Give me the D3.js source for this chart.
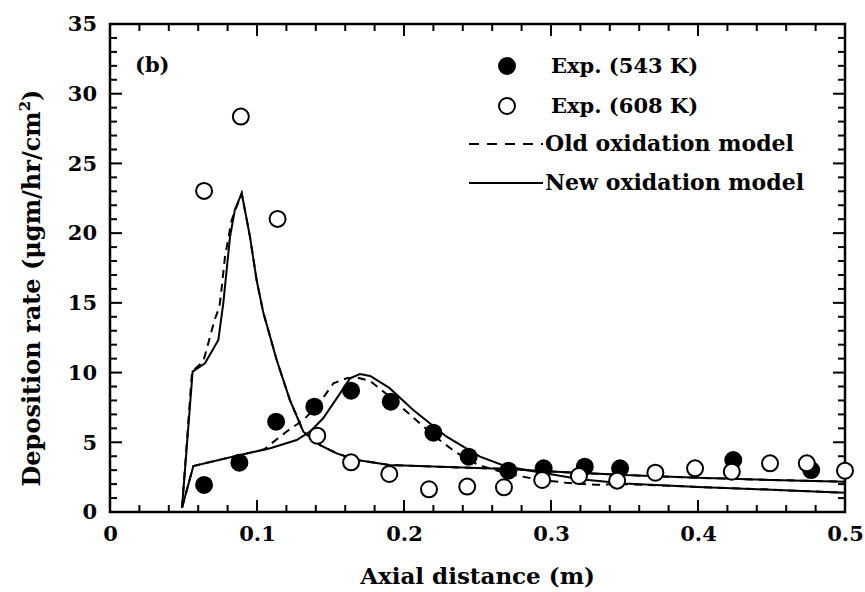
<!DOCTYPE html>
<html>
<head>
<meta charset="utf-8">
<script src="https://cdn.jsdelivr.net/npm/d3@7"></script>
<style>
  body { margin: 0; background: #fff; }
  text { font-family: "DejaVu Serif", serif; font-weight: bold; fill: #000; }
</style>
</head>
<body>
<svg id="chart" width="865" height="592"></svg>
<script>
// measured points, [axial distance (m), deposition rate]
const exp543 = [
  [0.064, 1.94], [0.088, 3.54], [0.113, 6.48], [0.139, 7.55], [0.164, 8.70],
  [0.191, 7.91], [0.220, 5.69], [0.244, 3.97], [0.271, 2.96], [0.295, 3.13],
  [0.323, 3.25], [0.347, 3.13], [0.424, 3.73], [0.477, 3.01]
];
const exp608 = [
  [0.064, 23.03], [0.089, 28.36], [0.114, 21.02], [0.141, 5.47], [0.164, 3.56],
  [0.190, 2.73], [0.217, 1.63], [0.243, 1.82], [0.268, 1.77], [0.294, 2.30],
  [0.319, 2.58], [0.345, 2.25], [0.371, 2.82], [0.398, 3.13], [0.423, 2.89],
  [0.449, 3.49], [0.474, 3.49], [0.500, 2.96]
];
// model curves
const newModel608 = [
  [0.049, 0.3], [0.0562, 10.07], [0.0646, 10.67], [0.0737, 12.34], [0.0771, 15.0],
  [0.0794, 17.4], [0.0816, 19.7], [0.085, 21.7], [0.0896, 22.86], [0.0952, 19.75],
  [0.0998, 16.6], [0.1043, 14.3], [0.1134, 10.9], [0.1224, 8.03], [0.1315, 5.76],
  [0.1429, 4.8], [0.1542, 4.2], [0.168, 3.73], [0.19, 3.37], [0.27, 3.08],
  [0.30, 2.9], [0.35, 2.65], [0.40, 2.45], [0.45, 2.3], [0.50, 2.17]
];
const oldModel608 = [
  [0.049, 0.3], [0.0558, 10.07], [0.0635, 10.8], [0.0712, 13.8], [0.0744, 14.7],
  [0.0759, 16.0], [0.0782, 18.3], [0.0828, 20.95], [0.0896, 22.86], [0.0952, 19.75],
  [0.0998, 16.6], [0.1043, 14.3], [0.1134, 10.9], [0.1224, 8.03], [0.1315, 5.76],
  [0.1429, 4.8], [0.1542, 4.2], [0.168, 3.73], [0.19, 3.37], [0.27, 3.08],
  [0.30, 2.9], [0.35, 2.65], [0.40, 2.45], [0.45, 2.3], [0.50, 2.17]
];
const newModel543 = [
  [0.049, 0.3], [0.0567, 3.3], [0.0884, 4.09], [0.109, 4.57], [0.127, 5.16],
  [0.136, 5.76], [0.145, 6.72], [0.1565, 8.51], [0.1633, 9.59], [0.170, 9.9],
  [0.177, 9.76], [0.19, 8.9], [0.2063, 7.32], [0.229, 5.4], [0.2517, 3.97],
  [0.27, 3.25], [0.30, 2.7], [0.32, 2.35], [0.35, 2.05], [0.40, 1.8],
  [0.45, 1.6], [0.50, 1.38]
];
const oldModel543 = [
  [0.049, 0.3], [0.0567, 3.3], [0.0884, 4.09], [0.105, 4.5], [0.11, 4.93],
  [0.12, 5.76], [0.1315, 6.6], [0.1406, 7.55], [0.152, 9.23], [0.161, 9.59],
  [0.168, 9.65], [0.177, 9.4], [0.19, 8.3], [0.205, 6.9], [0.22, 5.5],
  [0.235, 4.3], [0.25, 3.4], [0.27, 2.75], [0.29, 2.35], [0.31, 2.1],
  [0.33, 1.95], [0.35, 2.0], [0.40, 1.8], [0.45, 1.6], [0.50, 1.38]
];

const xMajor = [0, 0.1, 0.2, 0.3, 0.4, 0.5];
const xLabels = ["0", "0.1", "0.2", "0.3", "0.4", "0.5"];
const yMajor = [0, 5, 10, 15, 20, 25, 30, 35];
const yLabels = ["0", "5", "10", "15", "20", "25", "30", "35"];

const legendItems = [
  {label: "Exp. (543 K)", kind: "filled"},
  {label: "Exp. (608 K)", kind: "open"},
  {label: "Old oxidation model", kind: "dash"},
  {label: "New oxidation model", kind: "solid"}
];

const svg = d3.select("#chart");

const x = d3.scaleLinear().domain([0, 0.5]).range([110, 845]);
const y = d3.scaleLinear().domain([0, 35]).range([512, 24]);

const xMinor = d3.range(1, 25).map(i => +(i * 0.02).toFixed(2)).filter(v => !xMajor.includes(v));
const yMinor = d3.range(1, 35).filter(v => v % 5 !== 0);

// plot frame
svg.append("rect")
  .attr("x", x(0)).attr("y", y(35))
  .attr("width", x(0.5) - x(0)).attr("height", y(0) - y(35))
  .attr("fill", "none").attr("stroke", "#000").attr("stroke-width", 2.5);

// inward ticks on all four sides
const tickG = svg.append("g");
function xTicks(values, len) {
  [[y(0), -1], [y(35), 1]].forEach(([y0, dir]) => {
    tickG.append("g").selectAll("line").data(values).enter().append("line")
      .attr("x1", d => x(d)).attr("x2", d => x(d))
      .attr("y1", y0).attr("y2", y0 + dir * len)
      .attr("stroke", "#000").attr("stroke-width", 2);
  });
}
function yTicks(values, len) {
  [[x(0), 1], [x(0.5), -1]].forEach(([x0, dir]) => {
    tickG.append("g").selectAll("line").data(values).enter().append("line")
      .attr("y1", d => y(d)).attr("y2", d => y(d))
      .attr("x1", x0).attr("x2", x0 + dir * len)
      .attr("stroke", "#000").attr("stroke-width", 2);
  });
}
xTicks(xMajor, 12);
xTicks(xMinor, 7);
yTicks(yMajor, 12);
yTicks(yMinor, 7);

// tick labels through d3 axes
const xAxis = d3.axisBottom(x).tickValues(xMajor).tickFormat((d, i) => xLabels[i])
  .tickSize(0).tickPadding(14);
const yAxis = d3.axisLeft(y).tickValues(yMajor).tickFormat((d, i) => yLabels[i])
  .tickSize(0).tickPadding(13);

const gx = svg.append("g").attr("transform", `translate(0,${y(0)})`).call(xAxis);
const gy = svg.append("g").attr("transform", `translate(${x(0)},0)`).call(yAxis);
[gx, gy].forEach(g => {
  g.select(".domain").remove();
  g.selectAll(".tick line").remove();
  g.selectAll("text").style("font-size", "21px").attr("fill", "#000");
});

// curves
const line = d3.line().x(d => x(d[0])).y(d => y(d[1]));
const curves = [
  {data: oldModel608, dash: "8,6"},
  {data: oldModel543, dash: "8,6"},
  {data: newModel608, dash: null},
  {data: newModel543, dash: null}
];
svg.append("g").selectAll("path")
  .data(curves).enter()
  .append("path")
  .attr("d", d => line(d.data))
  .attr("fill", "none")
  .attr("stroke", "#000")
  .attr("stroke-width", 2)
  .attr("stroke-dasharray", d => d.dash);

// points: filled first, open drawn on top
svg.append("g").selectAll("circle")
  .data(exp543).enter()
  .append("circle")
  .attr("cx", d => x(d[0])).attr("cy", d => y(d[1])).attr("r", 8)
  .attr("fill", "#000").attr("stroke", "#000").attr("stroke-width", 2);

svg.append("g").selectAll("circle")
  .data(exp608).enter()
  .append("circle")
  .attr("cx", d => x(d[0])).attr("cy", d => y(d[1])).attr("r", 8)
  .attr("fill", "#fff").attr("stroke", "#000").attr("stroke-width", 2);

// panel label
svg.append("text").attr("x", 135).attr("y", 72).style("font-size", "21px").text("(b)");

// legend
const rowY = [66, 106, 144, 183];
const leg = svg.append("g").selectAll("g")
  .data(legendItems).enter()
  .append("g")
  .attr("transform", (d, i) => `translate(0,${rowY[i]})`);

leg.filter(d => d.kind === "filled" || d.kind === "open")
  .append("circle")
  .attr("cx", 507).attr("cy", 0).attr("r", 8)
  .attr("fill", d => d.kind === "filled" ? "#000" : "#fff")
  .attr("stroke", "#000").attr("stroke-width", 2);

leg.filter(d => d.kind === "dash" || d.kind === "solid")
  .append("line")
  .attr("x1", 469).attr("x2", 543).attr("y1", 0).attr("y2", 0)
  .attr("stroke", "#000").attr("stroke-width", 2)
  .attr("stroke-dasharray", d => d.kind === "dash" ? "10,8" : null);

leg.append("text")
  .attr("x", d => d.kind === "filled" || d.kind === "open" ? 551 : 545)
  .attr("y", 7)
  .style("font-size", d => d.kind === "filled" || d.kind === "open" ? "21px" : "22px")
  .text(d => d.label);

// axis titles
svg.append("text")
  .attr("x", (x(0) + x(0.5)) / 2).attr("y", 584)
  .attr("text-anchor", "middle")
  .style("font-size", "23px")
  .text("Axial distance (m)");

const yt = svg.append("text")
  .attr("transform", "translate(40,288) rotate(-90)")
  .attr("text-anchor", "middle")
  .style("font-size", "24px");
yt.append("tspan").text("Deposition rate (\u03bcgm/hr/cm");
yt.append("tspan").attr("dy", -10).style("font-size", "15px").text("2");
yt.append("tspan").attr("dy", 10).text(")");
</script>
</body>
</html>
